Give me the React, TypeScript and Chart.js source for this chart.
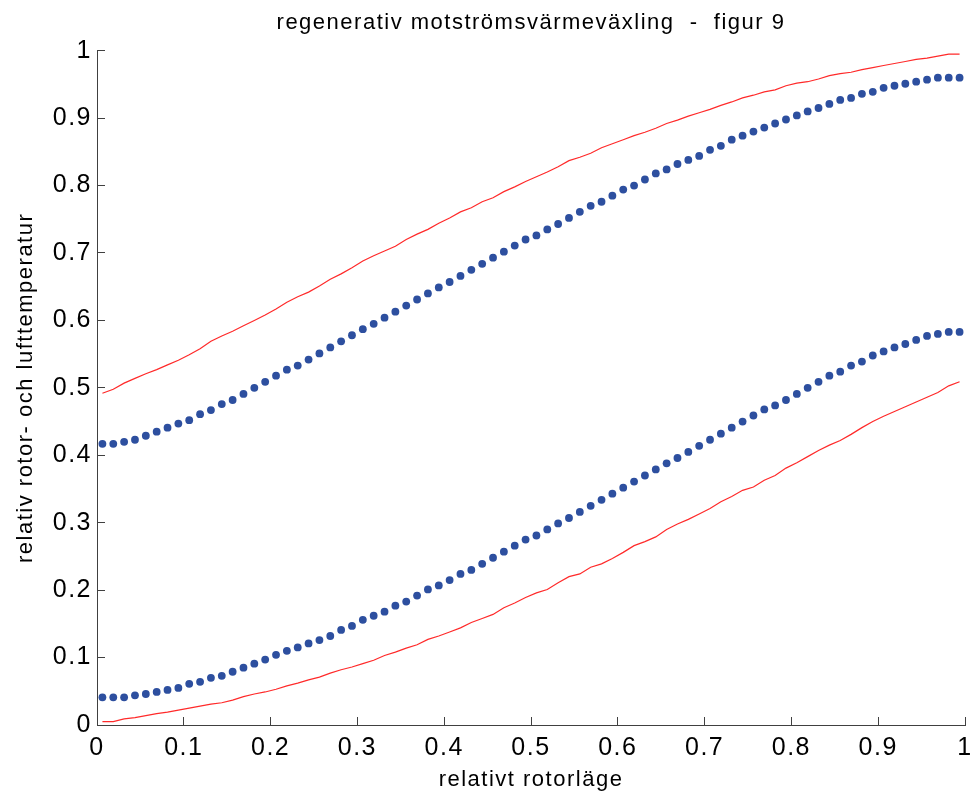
import React, { useEffect, useRef } from "react";
import { Chart, registerables } from "chart.js";

Chart.register(...registerables);

// 80 rotor cells, plotted at the cell centres of the relative rotor position 0..1
const rotorCells = [
  "1","2","3","4","5","6","7","8","9","10","11","12","13","14","15","16","17","18","19","20",
  "21","22","23","24","25","26","27","28","29","30","31","32","33","34","35","36","37","38","39","40",
  "41","42","43","44","45","46","47","48","49","50","51","52","53","54","55","56","57","58","59","60",
  "61","62","63","64","65","66","67","68","69","70","71","72","73","74","75","76","77","78","79","80",
];

// upper red line (air)
const upperAir = [
  0.492, 0.498, 0.507, 0.514, 0.521, 0.527, 0.534, 0.541, 0.549, 0.558, 0.569, 0.577, 0.584, 0.592, 0.600, 0.608, 0.617, 0.627, 0.635, 0.642,
  0.651, 0.661, 0.669, 0.678, 0.688, 0.696, 0.703, 0.710, 0.720, 0.728, 0.735, 0.744, 0.752, 0.761, 0.767, 0.776, 0.782, 0.791, 0.798, 0.806,
  0.813, 0.820, 0.828, 0.837, 0.842, 0.848, 0.856, 0.862, 0.868, 0.874, 0.879, 0.885, 0.892, 0.897, 0.903, 0.908, 0.913, 0.919, 0.924, 0.930,
  0.934, 0.939, 0.942, 0.948, 0.952, 0.954, 0.958, 0.963, 0.966, 0.968, 0.972, 0.975, 0.978, 0.981, 0.984, 0.987, 0.989, 0.992, 0.995, 0.995,
];

// upper blue dots (rotor)
const upperRotor = [
  0.417, 0.417, 0.420, 0.423, 0.429, 0.435, 0.441, 0.447, 0.452, 0.461, 0.467, 0.476, 0.482, 0.491, 0.500, 0.509, 0.518, 0.527, 0.533, 0.542,
  0.551, 0.560, 0.569, 0.578, 0.587, 0.595, 0.604, 0.613, 0.622, 0.631, 0.640, 0.649, 0.657, 0.666, 0.675, 0.684, 0.693, 0.702, 0.711, 0.720,
  0.726, 0.735, 0.743, 0.752, 0.761, 0.770, 0.776, 0.785, 0.794, 0.800, 0.809, 0.818, 0.824, 0.832, 0.838, 0.844, 0.853, 0.859, 0.868, 0.874,
  0.880, 0.886, 0.892, 0.898, 0.904, 0.910, 0.915, 0.921, 0.927, 0.930, 0.936, 0.939, 0.945, 0.948, 0.951, 0.954, 0.957, 0.960, 0.960, 0.960,
];

// lower blue dots (rotor)
const lowerRotor = [
  0.041, 0.041, 0.041, 0.044, 0.046, 0.049, 0.052, 0.055, 0.061, 0.064, 0.070, 0.073, 0.079, 0.085, 0.091, 0.097, 0.104, 0.110, 0.115, 0.121,
  0.126, 0.132, 0.141, 0.147, 0.156, 0.162, 0.168, 0.177, 0.183, 0.192, 0.201, 0.207, 0.215, 0.224, 0.230, 0.239, 0.248, 0.257, 0.266, 0.275,
  0.281, 0.290, 0.299, 0.307, 0.316, 0.325, 0.334, 0.343, 0.352, 0.361, 0.370, 0.379, 0.388, 0.396, 0.405, 0.414, 0.423, 0.432, 0.441, 0.450,
  0.459, 0.468, 0.474, 0.482, 0.491, 0.500, 0.509, 0.518, 0.524, 0.533, 0.539, 0.548, 0.554, 0.560, 0.565, 0.571, 0.577, 0.580, 0.583, 0.583,
];

// lower red line (air)
const lowerAir = [
  0.005, 0.005, 0.009, 0.011, 0.014, 0.017, 0.019, 0.022, 0.025, 0.028, 0.031, 0.033, 0.037, 0.042, 0.046, 0.049, 0.053, 0.058, 0.062, 0.067,
  0.071, 0.077, 0.082, 0.086, 0.091, 0.096, 0.103, 0.108, 0.114, 0.119, 0.127, 0.132, 0.138, 0.144, 0.152, 0.158, 0.164, 0.174, 0.181, 0.189,
  0.196, 0.201, 0.211, 0.220, 0.224, 0.234, 0.239, 0.247, 0.256, 0.266, 0.272, 0.279, 0.290, 0.298, 0.305, 0.313, 0.321, 0.331, 0.339, 0.348,
  0.353, 0.363, 0.370, 0.381, 0.389, 0.398, 0.407, 0.415, 0.422, 0.431, 0.441, 0.450, 0.458, 0.465, 0.472, 0.479, 0.486, 0.493, 0.503, 0.509,
];

const xTickLabels = ["0", "0.1", "0.2", "0.3", "0.4", "0.5", "0.6", "0.7", "0.8", "0.9", "1"];
const yTickLabels = ["0", "0.1", "0.2", "0.3", "0.4", "0.5", "0.6", "0.7", "0.8", "0.9", "1"];

const chartTitle = "regenerativ motströmsvärmeväxling  -  figur 9";
const xTitle = "relativt rotorläge";
const yTitle = "relativ rotor- och lufttemperatur";

const RED = "#ff2a2a";
const BLUE = "#2d4f9f";
const AXIS = "#404040";
const FONT = "'Liberation Sans', Arial, Helvetica, sans-serif";

const letterSpacingPlugin = {
  id: "letterSpacing",
  beforeDraw(chart: any) {
    (chart.ctx as any).letterSpacing = "1.5px";
  },
};

export default function App() {
  const canvasRef = useRef<HTMLCanvasElement | null>(null);

  useEffect(() => {
    if (!canvasRef.current) return;
    const chart = new Chart(canvasRef.current, {
      type: "line",
      data: {
        labels: rotorCells,
        datasets: [
          {
            label: "upper air",
            data: upperAir,
            borderColor: RED,
            borderWidth: 1.2,
            pointRadius: 0,
            tension: 0,
            fill: false,
            xAxisID: "x",
            yAxisID: "y",
          },
          {
            label: "upper rotor",
            data: upperRotor,
            showLine: false,
            pointRadius: 3.9,
            pointBorderWidth: 0,
            pointBackgroundColor: BLUE,
            borderColor: BLUE,
            xAxisID: "x",
            yAxisID: "y",
          },
          {
            label: "lower rotor",
            data: lowerRotor,
            showLine: false,
            pointRadius: 3.9,
            pointBorderWidth: 0,
            pointBackgroundColor: BLUE,
            borderColor: BLUE,
            xAxisID: "x",
            yAxisID: "y",
          },
          {
            label: "lower air",
            data: lowerAir,
            borderColor: RED,
            borderWidth: 1.2,
            pointRadius: 0,
            tension: 0,
            fill: false,
            xAxisID: "x",
            yAxisID: "y",
          },
        ],
      },
      options: {
        responsive: false,
        animation: false,
        devicePixelRatio: 1,
        layout: { padding: { left: 0, right: 10, top: 0, bottom: 0 } },
        plugins: {
          legend: { display: false },
          tooltip: { enabled: false },
          title: { display: false },
        },
        scales: {
          x: {
            type: "category",
            offset: true,
            display: false,
          },
          xAxis: {
            type: "linear",
            position: "bottom",
            min: 0,
            max: 1,
            grid: {
              drawOnChartArea: false,
              drawTicks: true,
              tickLength: -8,
              color: AXIS,
              lineWidth: 1,
            },
            border: { display: true, color: AXIS, width: 1 },
            ticks: {
              stepSize: 0.1,
              color: "#000",
              padding: 16,
              maxRotation: 0,
              autoSkip: false,
              font: { family: FONT, size: 25 },
              callback: (v: any) => xTickLabels[Math.round(Number(v) * 10)],
            },
            title: {
              display: true,
              text: xTitle,
              color: "#000",
              font: { family: FONT, size: 22 },
              padding: { top: 0, bottom: 5 },
            },
            afterFit: (s: any) => {
              s.height = 73;
              s.paddingLeft = 0;
              s.paddingRight = 0;
            },
          },
          xTop: {
            type: "linear",
            position: "top",
            min: 0,
            max: 1,
            grid: { display: false },
            border: { display: false },
            ticks: { display: false },
            title: {
              display: true,
              text: chartTitle,
              color: "#000",
              font: { family: FONT, size: 22 },
              padding: { top: 9.5, bottom: 0 },
            },
            afterFit: (s: any) => {
              s.height = 50.7;
              s.paddingLeft = 0;
              s.paddingRight = 0;
            },
          },
          y: {
            type: "linear",
            position: "left",
            min: 0,
            max: 1,
            grid: {
              drawOnChartArea: false,
              drawTicks: true,
              tickLength: -8,
              color: AXIS,
              lineWidth: 1,
            },
            border: { display: true, color: AXIS, width: 1 },
            ticks: {
              stepSize: 0.1,
              color: "#000",
              padding: 13,
              autoSkip: false,
              font: { family: FONT, size: 25 },
              callback: (v: any) => yTickLabels[Math.round(Number(v) * 10)],
            },
            title: {
              display: true,
              text: yTitle,
              color: "#000",
              font: { family: FONT, size: 22 },
              padding: { top: 12.5, bottom: 0 },
            },
            afterFit: (s: any) => {
              s.width = 97;
              s.paddingTop = 0;
              s.paddingBottom = 0;
            },
          },
        },
      },
      plugins: [letterSpacingPlugin],
    } as any);
    return () => chart.destroy();
  }, []);

  return (
    <div style={{ position: "absolute", left: 0, top: 0, width: 975, height: 798, background: "#fff" }}>
      <canvas ref={canvasRef} width={975} height={798} style={{ display: "block" }} />
    </div>
  );
}
